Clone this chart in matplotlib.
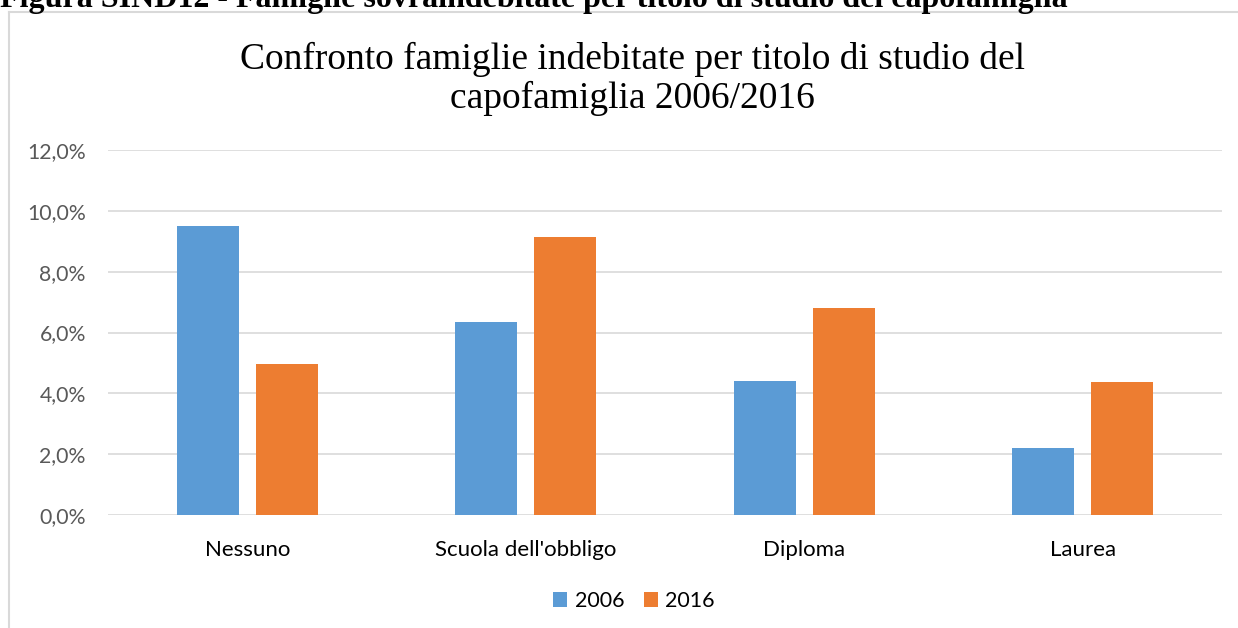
import matplotlib.pyplot as plt
import numpy as np
from matplotlib.lines import Line2D
from matplotlib.ticker import FuncFormatter

categorie = ["Nessuno", "Scuola dell'obbligo", "Diploma", "Laurea"]
anni = ["2006", "2016"]
val_2006 = [9.5, 6.35, 4.4, 2.2]
val_2016 = [4.97, 9.15, 6.8, 4.37]

blu = "#5B9BD5"
arancio = "#ED7D31"

fig = plt.figure(figsize=(12.38, 6.28), dpi=100)
ax = fig.add_axes([108/1238, 1 - 515/628, (1222 - 108)/1238, (515 - 150)/628])

x = np.arange(len(categorie))
w = 0.223
off = 0.142
ax.bar(x - off, val_2006, w, color=blu, label=anni[0], zorder=3)
ax.bar(x + off, val_2016, w, color=arancio, label=anni[1], zorder=3)

ax.set_xlim(-0.5, 3.5)
ax.set_ylim(0, 12)
ax.set_yticks(np.arange(0, 12.1, 2))
ax.yaxis.set_major_formatter(FuncFormatter(lambda v, p: f"{v:.1f}%".replace(".", ",")))
ax.grid(axis="y", color="#d9d9d9", linewidth=1.2, zorder=0)
for s in ax.spines.values():
    s.set_visible(False)
ax.tick_params(length=0)
ax.set_xticks(x)
ax.set_xticklabels(categorie, fontsize=16, family="Lato", color="#000000")
for lab in ax.get_yticklabels():
    lab.set_fontsize(15.3)
    lab.set_family("Lato")
    lab.set_color("#595959")
ax.tick_params(axis="y", pad=16)
ax.tick_params(axis="x", pad=18)

# cornice del grafico
fig.add_artist(Line2D([9/1238, 9/1238], [0, 1 - 12/628], color="#d9d9d9", linewidth=1.5))
fig.add_artist(Line2D([9/1238, 1], [1 - 12/628, 1 - 12/628], color="#d9d9d9", linewidth=1.5))

fig.text(632/1238, 1 - 79/628, "Confronto famiglie indebitate per titolo di studio del\ncapofamiglia 2006/2016",
         ha="center", va="center", fontsize=27, family="Liberation Serif", color="#000000",
         linespacing=1.15)

# intestazione tagliata in alto
fig.text(0, 1 - 7/628, "Figura SIND12 - Famiglie sovraindebitate per titolo di studio del capofamiglia",
         ha="left", va="baseline", fontsize=23, family="Liberation Serif", weight="bold")

fig.legend(loc="center", bbox_to_anchor=(634/1238, 1 - 601/628), ncol=2, frameon=False,
           prop={"family": "Lato", "size": 15.5}, handlelength=0.65, handleheight=0.65,
           handletextpad=0.35, columnspacing=0.9)

fig.savefig("out.png", dpi=100)
